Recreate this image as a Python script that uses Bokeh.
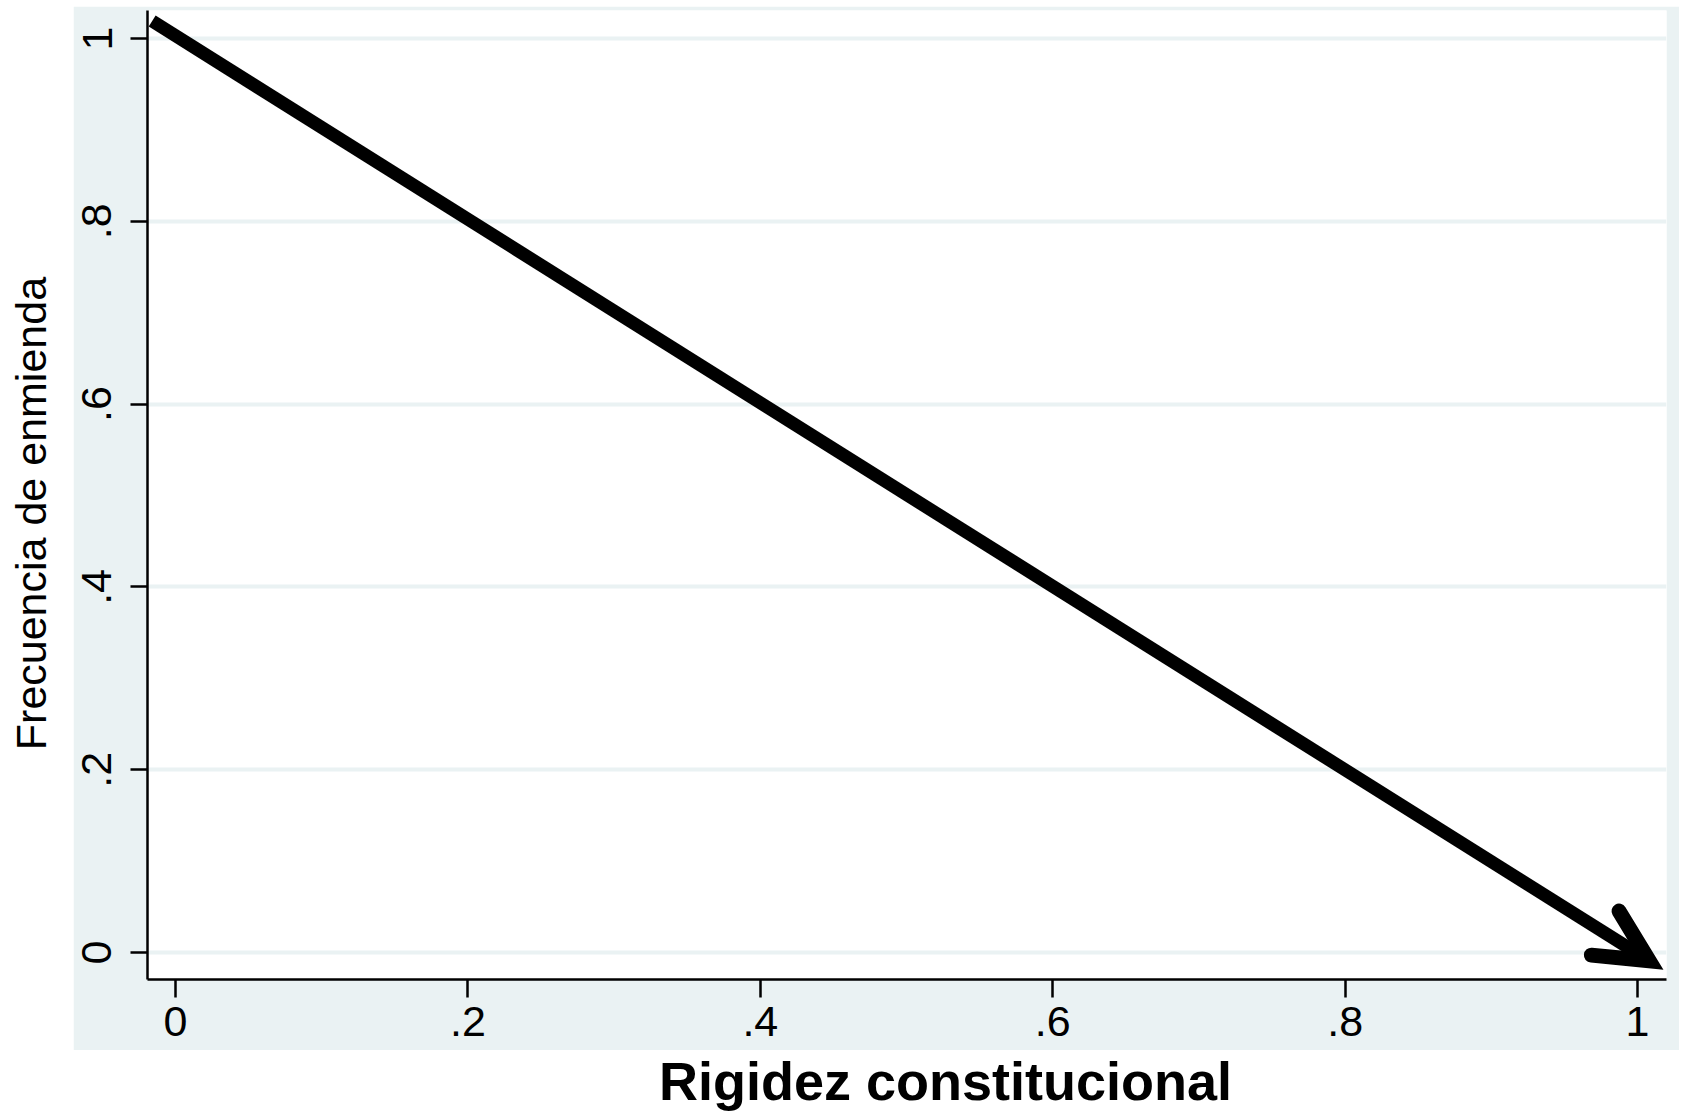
import math
from bokeh.plotting import figure
from bokeh.models import Range1d, FixedTicker, Arrow, OpenHead, ColumnDataSource, Spacer
from bokeh.layouts import column, row
from bokeh.core.properties import value
from bokeh.embed import file_html
from bokeh.resources import INLINE

# ---- data ----
tick_values = [0, 0.2, 0.4, 0.6, 0.8, 1]
tick_labels = ["0", ".2", ".4", ".6", ".8", "1"]
arrow_x = [-0.016, 1.008]
arrow_y = [1.019, -0.009]
x_title = "Rigidez constitucional"
y_title = "Frecuencia de enmienda"

BG = "#EAF2F3"

# layout geometry (pixels)
LEFT_PANEL = 74
BOTTOM_PANEL = 71
MAIN_X0 = 147 - LEFT_PANEL
MAIN_W = 1679 - MAIN_X0
MAIN_H = 979 + BOTTOM_PANEL - 6
XFIG_H = 1113 - 6 - MAIN_H

# ---- main panel ----
main = figure(width=MAIN_W, height=MAIN_H,
              x_range=Range1d(-0.0192, 1.0198), y_range=Range1d(-0.0295, 1.0306),
              output_backend="svg", toolbar_location=None,
              min_border_left=LEFT_PANEL, min_border_right=13, min_border_top=4,
              min_border_bottom=BOTTOM_PANEL,
              border_fill_color=BG, background_fill_color="white", outline_line_color=None)

for ax in (main.xaxis[0], main.yaxis[0]):
    ax.ticker = FixedTicker(ticks=tick_values)
    ax.major_label_overrides = dict(zip(tick_values, tick_labels))
    ax.axis_line_width = 2.5
    ax.axis_line_color = "black"
    ax.major_tick_line_width = 2.5
    ax.major_tick_line_color = "black"
    ax.major_tick_in = 0
    ax.minor_tick_line_color = None
    ax.major_label_text_font = "Liberation Sans"
    ax.major_label_text_font_size = "43px"
    ax.major_label_text_color = "black"

main.xaxis[0].major_tick_out = 18
main.xaxis[0].major_label_standoff = 9
main.yaxis[0].major_tick_out = 17
main.yaxis[0].major_label_standoff = 19
main.yaxis[0].major_label_orientation = "vertical"

main.xgrid.visible = False
main.ygrid.grid_line_color = BG
main.ygrid.grid_line_width = 4

src = ColumnDataSource(dict(x0=[arrow_x[0]], y0=[arrow_y[0]], x1=[arrow_x[1]], y1=[arrow_y[1]]))
arr = Arrow(x_start="x0", y_start="y0", x_end="x1", y_end="y1", source=src,
            line_width=13, line_color="black", line_cap="butt",
            end=OpenHead(size=52, line_width=15, line_color="black",
                         line_cap="round", line_join="miter"))
main.add_layout(arr)

# ---- y title panel ----
yfig = figure(width=MAIN_X0, height=MAIN_H, x_range=Range1d(0, MAIN_X0), y_range=Range1d(0, MAIN_H),
              x_axis_location=None, y_axis_location=None,
              output_backend="svg", toolbar_location=None, min_border=0,
              outline_line_color=None, border_fill_color="white", background_fill_color="white")
yfig.grid.visible = False
yfig.text(x=[30], y=[MAIN_H - (548 - 6)], text=[y_title], angle=math.pi / 2,
          text_align="center", text_baseline="alphabetic",
          text_font=value("Liberation Sans"), text_font_size="43px", text_color="black")

# ---- x title panel ----
XT_SIZE = 54
xfig = figure(width=1684, height=XFIG_H, x_range=Range1d(0, 1684), y_range=Range1d(0, XFIG_H),
              x_axis_location=None, y_axis_location=None,
              output_backend="svg", toolbar_location=None, min_border=0,
              outline_line_color=None, border_fill_color="white", background_fill_color="white")
xfig.grid.visible = False
xfig.text(x=[945], y=[XFIG_H - (1100.5 - 6 - MAIN_H) + 0.372 * XT_SIZE], text=[x_title],
          text_align="center", text_baseline="alphabetic",
          text_font=value("Liberation Sans"), text_font_style="bold",
          text_font_size=f"{XT_SIZE}px", text_color="black")

layout = column(Spacer(width=1684, height=6), row(yfig, main), xfig)
open("out.html", "w").write(file_html(layout, INLINE))
